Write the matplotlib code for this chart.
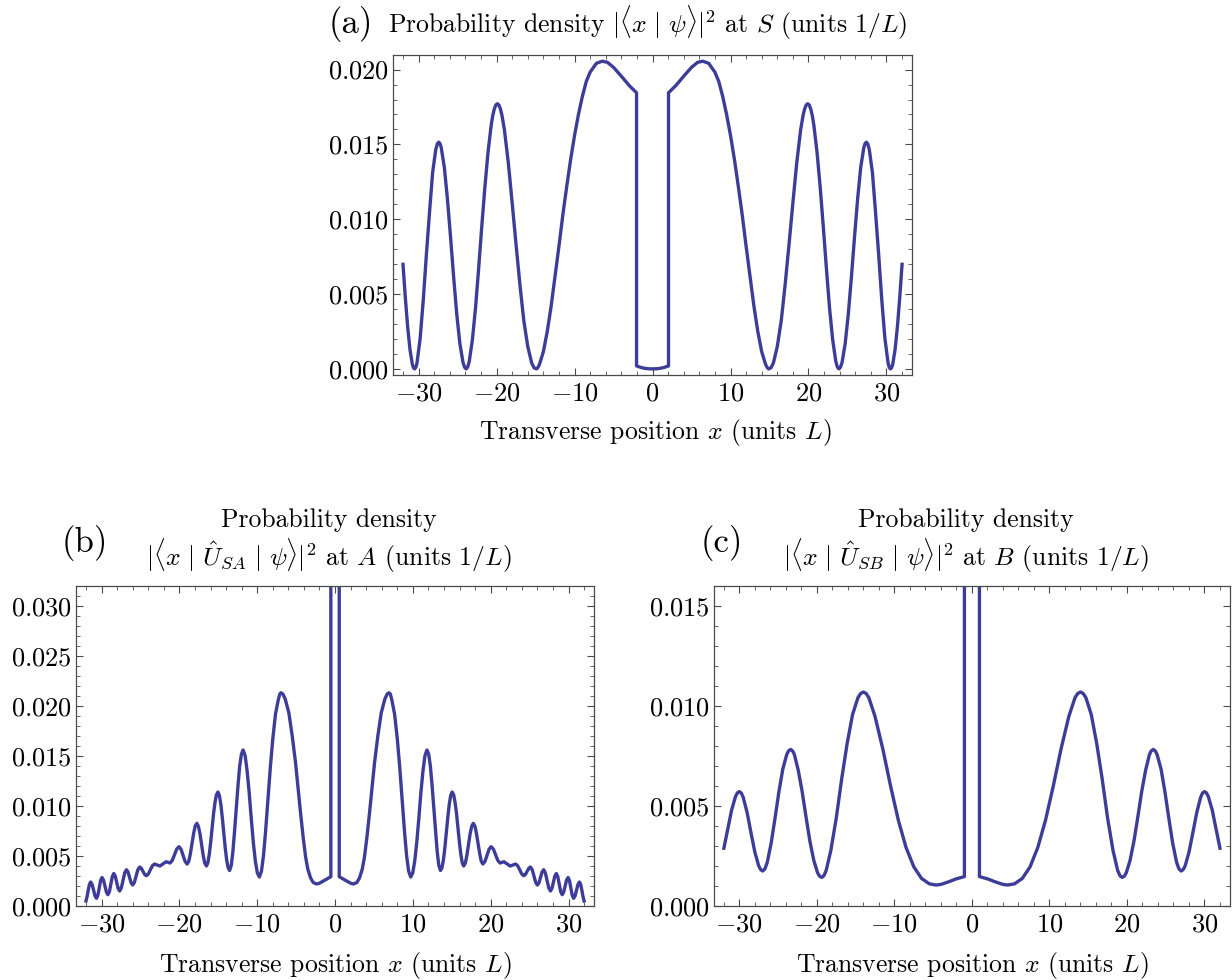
import numpy as np
import matplotlib
matplotlib.use('Agg')
import matplotlib.pyplot as plt
from matplotlib.ticker import MultipleLocator

plt.rcParams['font.family'] = 'serif'
plt.rcParams['font.serif'] = ['cmr10']
plt.rcParams['mathtext.fontset'] = 'cm'
plt.rcParams['axes.unicode_minus'] = False

# profiles are mirror symmetric about x = 0, values read for x >= 0
# (a) density at S
xa_half = [0.0, 0.5, 1.0, 1.5, 2.05, 2.05, 3.0, 4.0, 5.0, 5.8, 6.45, 7.2, 8.0, 8.5, 9.0,
           9.5, 10.0, 10.5, 11.0, 11.5, 12.0, 12.5, 13.0, 13.5, 14.0, 14.5, 14.7, 14.9,
           15.2, 15.5, 16.0, 16.5, 17.0, 17.5, 18.0, 18.5, 19.0, 19.3, 19.5, 19.7, 19.9,
           20.1, 20.3, 20.5, 20.7, 21.1, 21.5, 21.9, 22.3, 22.7, 23.1, 23.5, 23.7, 23.9,
           24.1, 24.3, 24.7, 25.1, 25.5, 25.9, 26.3, 26.7, 27.1, 27.25, 27.42, 27.6,
           27.8, 28.2, 28.6, 29.0, 29.4, 29.8, 30.2, 30.35, 30.51, 30.65, 30.8, 31.1,
           31.4, 31.7, 32.0]
ya_half = [0.0, 0.00001, 0.00004, 0.0001, 0.0002, 0.01845, 0.01894, 0.01956, 0.02015,
           0.02049, 0.02056, 0.02042, 0.01983, 0.0192, 0.0182, 0.0170, 0.0156, 0.0140,
           0.0122, 0.0103, 0.0082, 0.0062, 0.0042, 0.0025, 0.00115, 0.0003, 0.00009,
           0.0, 0.00008, 0.0004, 0.0015, 0.0032, 0.0056, 0.0083, 0.0111, 0.0138, 0.0160,
           0.01692, 0.01736, 0.01763, 0.01772, 0.01763, 0.01735, 0.0169, 0.01623,
           0.01446, 0.01214, 0.0095, 0.0067, 0.00406, 0.00195, 0.00051, 0.00013, 0.0,
           0.00011, 0.00042, 0.00167, 0.00363, 0.00611, 0.0088, 0.01135, 0.01348,
           0.0148, 0.01505, 0.01515, 0.01504, 0.01465, 0.01312, 0.01045, 0.00763,
           0.0046, 0.00204, 0.00041, 0.00011, 0.0, 0.00007, 0.0003, 0.00128, 0.0028,
           0.00476, 0.00699]

# (b) density at A (values inside the slit run off the top of the frame)
xb_half = [0.0, 0.54, 0.54, 1.0, 1.5, 2.0, 2.36, 2.8, 3.14, 3.5, 3.78, 4.1, 4.43, 4.75,
           5.07, 5.5, 5.93, 6.4, 6.7, 6.95, 7.1, 7.3, 7.65, 8.0, 8.3, 8.6, 8.94, 9.2,
           9.45, 9.72, 9.98, 10.24, 10.5, 10.77, 11.03, 11.29, 11.55, 11.81, 12.03,
           12.25, 12.46, 12.68, 12.9, 13.12, 13.33, 13.55, 13.74, 13.93, 14.11, 14.3,
           14.49, 14.68, 14.86, 15.05, 15.24, 15.42, 15.61, 15.79, 15.98, 16.16, 16.35,
           16.53, 16.74, 16.94, 17.15, 17.35, 17.56, 17.76, 17.97, 18.17, 18.38, 18.59,
           18.79, 19.0, 19.26, 19.53, 19.79, 20.05, 20.34, 20.63, 20.91, 21.2, 21.45,
           21.7, 22.1, 22.5, 22.85, 23.2, 23.46, 23.73, 23.99, 24.25, 24.46, 24.68,
           24.89, 25.1, 25.33, 25.55, 25.78, 26.0, 26.2, 26.4, 26.6, 26.8, 27.02,
           27.24, 27.46, 27.68, 27.87, 28.06, 28.24, 28.43, 28.62, 28.81, 28.99, 29.18,
           29.37, 29.56, 29.75, 29.94, 30.12, 30.3, 30.47, 30.65, 30.84, 31.03, 31.21,
           31.4, 31.55, 31.7, 31.85, 32.0]
yb_half = [0.2, 0.2, 0.00293, 0.00272, 0.0025, 0.00228, 0.0022, 0.00235, 0.0028, 0.0037,
           0.0049, 0.0069, 0.0093, 0.0118, 0.0143, 0.0170, 0.0193, 0.0207, 0.0212,
           0.02133, 0.0212, 0.0206, 0.0192, 0.0167, 0.0140, 0.0108, 0.0073, 0.0050,
           0.0035, 0.0029, 0.0033, 0.0045, 0.00637, 0.00881, 0.01133, 0.01346, 0.01504,
           0.0156, 0.01519, 0.01398, 0.01213, 0.0099, 0.00758, 0.00547, 0.00407,
           0.00355, 0.00383, 0.00464, 0.00582, 0.00732, 0.00888, 0.0102, 0.01106,
           0.0114, 0.01112, 0.01038, 0.00923, 0.00784, 0.00636, 0.00516, 0.00429,
           0.004, 0.00429, 0.00507, 0.00614, 0.0072, 0.00798, 0.00827, 0.008, 0.00725,
           0.00624, 0.00522, 0.00447, 0.0042, 0.00445, 0.00507, 0.00568, 0.00593,
           0.0057, 0.00513, 0.00456, 0.0043, 0.00437, 0.00443, 0.00422, 0.004, 0.0041,
           0.0042, 0.00403, 0.00362, 0.0032, 0.00303, 0.00316, 0.00347, 0.00377,
           0.0039, 0.00364, 0.003, 0.00236, 0.0021, 0.00232, 0.00287, 0.00341,
           0.00363, 0.00332, 0.00257, 0.00181, 0.0015, 0.00176, 0.00238, 0.00299,
           0.00325, 0.00294, 0.00219, 0.00144, 0.00113, 0.00138, 0.00199, 0.0026,
           0.00285, 0.00255, 0.00181, 0.00107, 0.00077, 0.00101, 0.00159, 0.00216,
           0.0024, 0.00218, 0.00162, 0.00097, 0.0005]

# (c) density at B
xc_half = [0.0, 0.97, 0.97, 2.0, 3.0, 4.0, 4.64, 5.5, 6.5, 7.5, 8.5, 9.5, 10.5, 11.5,
           12.5, 13.3, 13.65, 14.0, 14.35, 14.7, 15.4, 16.1, 16.8, 17.5, 18.2, 18.8,
           19.1, 19.38, 19.65, 19.9, 20.4, 20.9, 21.4, 21.9, 22.4, 22.9, 23.1, 23.38,
           23.65, 23.9, 24.4, 24.9, 25.4, 25.9, 26.4, 26.7, 26.99, 27.25, 27.5, 28.0,
           28.5, 29.0, 29.5, 29.75, 30.0, 30.25, 30.5, 31.0, 31.5, 32.0]
yc_half = [0.05, 0.05, 0.00147, 0.00136, 0.00121, 0.00108, 0.00105, 0.00111, 0.00138,
           0.00196, 0.00293, 0.0043, 0.00601, 0.00786, 0.00948, 0.01042, 0.01063,
           0.0107, 0.01063, 0.01042, 0.00957, 0.00812, 0.00636, 0.0044, 0.00278,
           0.00178, 0.00151, 0.00143, 0.00149, 0.00165, 0.00228, 0.00324, 0.00445,
           0.00572, 0.00678, 0.00757, 0.00774, 0.00783, 0.00776, 0.00756, 0.00684,
           0.00571, 0.00439, 0.00314, 0.00219, 0.00186, 0.00175, 0.00182, 0.002,
           0.00269, 0.00366, 0.00467, 0.00543, 0.00565, 0.00572, 0.00566, 0.00547,
           0.0048, 0.00384, 0.00289]


def mirror(xh, yh):
    xh = np.array(xh)
    yh = np.array(yh)
    x = np.concatenate([-xh[:0:-1], xh])
    y = np.concatenate([yh[:0:-1], yh])
    return x, y


xa, ya = mirror(xa_half, ya_half)
xb, yb = mirror(xb_half, yb_half)
xc, yc = mirror(xc_half, yc_half)

x_ticks = [-30, -20, -10, 0, 10, 20, 30]
x_labels = [r'$-30$', r'$-20$', r'$-10$', r'$0$', r'$10$', r'$20$', r'$30$']

line_color = '#3d3d99'
frame_color = '#4a4a4a'


def style(ax, yticks, ylim):
    ax.set_xlim(-33.28, 33.28)
    ax.set_ylim(*ylim)
    ax.set_xticks(x_ticks)
    ax.set_xticklabels(x_labels)
    ax.set_yticks(yticks)
    ax.set_yticklabels(['$%.3f$' % t for t in yticks])
    ax.xaxis.set_minor_locator(MultipleLocator(2))
    ax.yaxis.set_minor_locator(MultipleLocator(0.001))
    ax.tick_params(which='both', direction='in', top=True, right=True,
                   color=frame_color, labelsize=19)
    ax.tick_params(axis='y', pad=3)
    ax.tick_params(axis='x', pad=5)
    ax.tick_params(which='major', length=5, width=0.8)
    ax.tick_params(which='minor', length=2.8, width=0.6)
    for s in ax.spines.values():
        s.set_color(frame_color)
        s.set_linewidth(0.9)


fig = plt.figure(figsize=(12.32, 9.8), dpi=100)

ax_a = fig.add_axes([0.3190, 0.6173, 0.4213, 0.3265])
ax_a.plot(xa, ya, color=line_color, lw=2.4)
style(ax_a, [0.0, 0.005, 0.010, 0.015, 0.020], (-0.00041, 0.02097))

ax_b = fig.add_axes([0.0617, 0.0755, 0.4205, 0.3265])
ax_b.plot(xb, yb, color=line_color, lw=2.4)
style(ax_b, [0.0, 0.005, 0.010, 0.015, 0.020, 0.025, 0.030], (0.0, 0.032))

ax_c = fig.add_axes([0.5795, 0.0755, 0.4188, 0.3265])
ax_c.plot(xc, yc, color=line_color, lw=2.4)
style(ax_c, [0.0, 0.005, 0.010, 0.015], (0.0, 0.016))

fs = 18.5
fig.text(0.2849, 0.9663, '(a)', fontsize=25, ha='center', va='baseline')
fig.text(0.5260, 0.9663, r'Probability density $|\langle x\ |\ \psi\rangle|^2$ at $S$ (units $1/L$)',
         fontsize=fs, ha='center', va='baseline')
fig.text(0.5317, 0.5582, r'Transverse position $x$ (units $L$)', fontsize=fs, ha='center', va='center')

fig.text(0.069, 0.4459, '(b)', fontsize=25, ha='center', va='center')
fig.text(0.267, 0.4694, 'Probability density', fontsize=fs, ha='center', va='center')
fig.text(0.267, 0.4327, r'$|\langle x\ |\ \hat{U}_{SA}\ |\ \psi\rangle|^2$ at $A$ (units $1/L$)',
         fontsize=fs, ha='center', va='center')
fig.text(0.2719, 0.0153, r'Transverse position $x$ (units $L$)', fontsize=fs, ha='center', va='center')

fig.text(0.586, 0.4459, '(c)', fontsize=25, ha='center', va='center')
fig.text(0.784, 0.4694, 'Probability density', fontsize=fs, ha='center', va='center')
fig.text(0.784, 0.4327, r'$|\langle x\ |\ \hat{U}_{SB}\ |\ \psi\rangle|^2$ at $B$ (units $1/L$)',
         fontsize=fs, ha='center', va='center')
fig.text(0.789, 0.0153, r'Transverse position $x$ (units $L$)', fontsize=fs, ha='center', va='center')

fig.savefig('out.png', dpi=100)
